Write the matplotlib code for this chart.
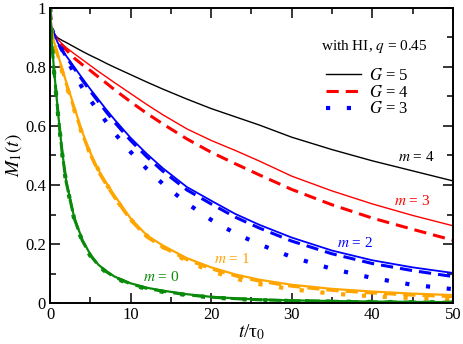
import matplotlib
matplotlib.use('Agg')
import matplotlib.pyplot as plt
from matplotlib.lines import Line2D
from matplotlib.ticker import MultipleLocator, FormatStrFormatter

plt.rcParams['font.family'] = 'serif'
plt.rcParams['font.serif'] = ['Liberation Serif', 'DejaVu Serif']
plt.rcParams['mathtext.fontset'] = 'stix'

# time grid t/tau0
t = [0, 0.2, 0.5, 1, 1.5, 2, 3, 4, 5, 6, 7, 8, 10, 12, 14, 17, 20, 23, 26, 30, 35, 40, 45, 50]

# M_1(t), one list per (m, G)
m4_g5 = [1.0, 0.93, 0.91, 0.898, 0.89, 0.883, 0.868, 0.853, 0.839, 0.826, 0.812, 0.799,
         0.774, 0.749, 0.725, 0.691, 0.659, 0.631, 0.603, 0.562, 0.520, 0.482, 0.448, 0.414]
m3_g5 = [1.0, 0.93, 0.91, 0.893, 0.878, 0.866, 0.845, 0.825, 0.805, 0.785, 0.766, 0.747,
         0.710, 0.673, 0.638, 0.590, 0.551, 0.517, 0.481, 0.430, 0.380, 0.336, 0.297, 0.262]
m3_g4 = [1.0, 0.93, 0.91, 0.890, 0.873, 0.858, 0.830, 0.808, 0.788, 0.766, 0.745, 0.723,
         0.682, 0.643, 0.607, 0.556, 0.511, 0.472, 0.434, 0.385, 0.333, 0.288, 0.250, 0.213]
m2_g5 = [1.0, 0.93, 0.91, 0.880, 0.860, 0.838, 0.800, 0.762, 0.725, 0.690, 0.655, 0.622,
         0.560, 0.506, 0.457, 0.393, 0.347, 0.302, 0.265, 0.222, 0.178, 0.145, 0.121, 0.102]
m2_g4 = [1.0, 0.93, 0.91, 0.878, 0.856, 0.834, 0.795, 0.756, 0.718, 0.682, 0.647, 0.613,
         0.551, 0.496, 0.447, 0.383, 0.336, 0.291, 0.254, 0.210, 0.167, 0.134, 0.110, 0.090]
m2_g3 = [1.0, 0.93, 0.91, 0.885, 0.858, 0.830, 0.778, 0.730, 0.688, 0.650, 0.613, 0.576,
         0.512, 0.455, 0.404, 0.338, 0.282, 0.236, 0.199, 0.156, 0.116, 0.085, 0.062, 0.047]
m1_g5 = [1.0, 0.92, 0.885, 0.840, 0.795, 0.750, 0.665, 0.580, 0.510, 0.452, 0.407, 0.365,
         0.287, 0.230, 0.195, 0.152, 0.121, 0.097, 0.079, 0.062, 0.048, 0.039, 0.032, 0.027]
m1_g4 = [1.0, 0.92, 0.882, 0.835, 0.790, 0.744, 0.658, 0.573, 0.503, 0.445, 0.400, 0.358,
         0.281, 0.224, 0.189, 0.147, 0.116, 0.092, 0.074, 0.057, 0.043, 0.034, 0.027, 0.022]
m1_g3 = [1.0, 0.92, 0.880, 0.830, 0.785, 0.740, 0.655, 0.572, 0.505, 0.452, 0.404, 0.358,
         0.284, 0.229, 0.190, 0.142, 0.108, 0.083, 0.064, 0.047, 0.032, 0.023, 0.017, 0.013]
m0_g5 = [1.0, 0.89, 0.79, 0.645, 0.515, 0.415, 0.290, 0.215, 0.165, 0.130, 0.108, 0.090,
         0.067, 0.052, 0.042, 0.030, 0.021, 0.016, 0.012, 0.009, 0.007, 0.005, 0.004, 0.003]
m0_g4 = [1.0, 0.89, 0.787, 0.641, 0.511, 0.411, 0.287, 0.212, 0.162, 0.128, 0.106, 0.088,
         0.065, 0.050, 0.040, 0.028, 0.020, 0.015, 0.011, 0.008, 0.006, 0.004, 0.003, 0.003]
m0_g3 = [1.0, 0.89, 0.785, 0.638, 0.508, 0.408, 0.285, 0.210, 0.160, 0.126, 0.104, 0.086,
         0.063, 0.048, 0.038, 0.027, 0.019, 0.014, 0.010, 0.007, 0.005, 0.004, 0.003, 0.002]

green = '#0a8a0a'
orange = '#ffa500'
blue = '#0000ff'
red = '#ff0000'
black = '#000000'

fig = plt.figure(figsize=(4.63, 3.44), dpi=100)
ax = fig.add_axes([0.108, 0.119, 0.870, 0.858])

def solid(y, c, lw=1.0):
    ax.plot(t, y, color=c, lw=lw, solid_capstyle='butt')

def dashed(y, c):
    ax.plot(t, y, color=c, lw=2.2, dashes=(4.0, 2.3))

def dotted(y, c):
    ax.plot(t, y, color=c, lw=3.0, dashes=(1.0, 4.0))

solid(m4_g5, black, 1.0)
solid(m3_g5, red, 1.0)
dashed(m3_g4, red)
solid(m2_g5, blue, 1.3)
dashed(m2_g4, blue)
dotted(m2_g3, blue)
solid(m1_g5, orange, 1.6)
dashed(m1_g4, orange)
dotted(m1_g3, orange)
solid(m0_g5, green, 1.6)
dashed(m0_g4, green)
dotted(m0_g3, green)

ax.set_xlim(0, 50)
ax.set_ylim(0, 1)
ax.xaxis.set_major_locator(MultipleLocator(10))
ax.xaxis.set_minor_locator(MultipleLocator(5))
ax.yaxis.set_major_locator(MultipleLocator(0.2))
ax.yaxis.set_minor_locator(MultipleLocator(0.1))
ax.xaxis.set_major_formatter(FormatStrFormatter('%g'))
ax.yaxis.set_major_formatter(FormatStrFormatter('%g'))
ax.tick_params(which='both', direction='in', top=True, right=True, labelsize=12, width=1.1)
ax.tick_params(which='major', length=7, pad=3)
ax.tick_params(which='minor', length=4)
for sp in ax.spines.values():
    sp.set_linewidth(1.4)

ax.set_xlabel('$t$/τ$_0$', fontsize=14, labelpad=-1)
ax.set_ylabel('$M_1(t)$', fontsize=14, labelpad=1)

# curve labels
ax.text(45.5, 0.495, '$m$ = 4', color=black, fontsize=11, ha='center', va='center')
ax.text(44.9, 0.345, '$m$ = 3', color=red, fontsize=11, ha='center', va='center')
ax.text(37.8, 0.203, '$m$ = 2', color=blue, fontsize=11, ha='center', va='center')
ax.text(22.6, 0.148, '$m$ = 1', color=orange, fontsize=11, ha='center', va='center')
ax.text(13.8, 0.090, '$m$ = 0', color=green, fontsize=11, ha='center', va='center')

ax.text(40.3, 0.868, 'with HI, $q$ = 0.45', fontsize=11, ha='center', va='center')
handles = [Line2D([], [], color=black, lw=1.0),
           Line2D([], [], color=red, lw=2.2, dashes=(4.0, 2.3)),
           Line2D([], [], color=blue, lw=3.0, dashes=(1.0, 4.0))]
labels = ['$G$ = 5', '$G$ = 4', '$G$ = 3']
ax.legend(handles, labels, loc='upper left', bbox_to_anchor=(0.685, 0.797), frameon=False,
          fontsize=12, handlelength=2.1, handletextpad=0.5, labelspacing=0.05,
          borderaxespad=0, borderpad=0)

fig.savefig('out.png', dpi=100)
